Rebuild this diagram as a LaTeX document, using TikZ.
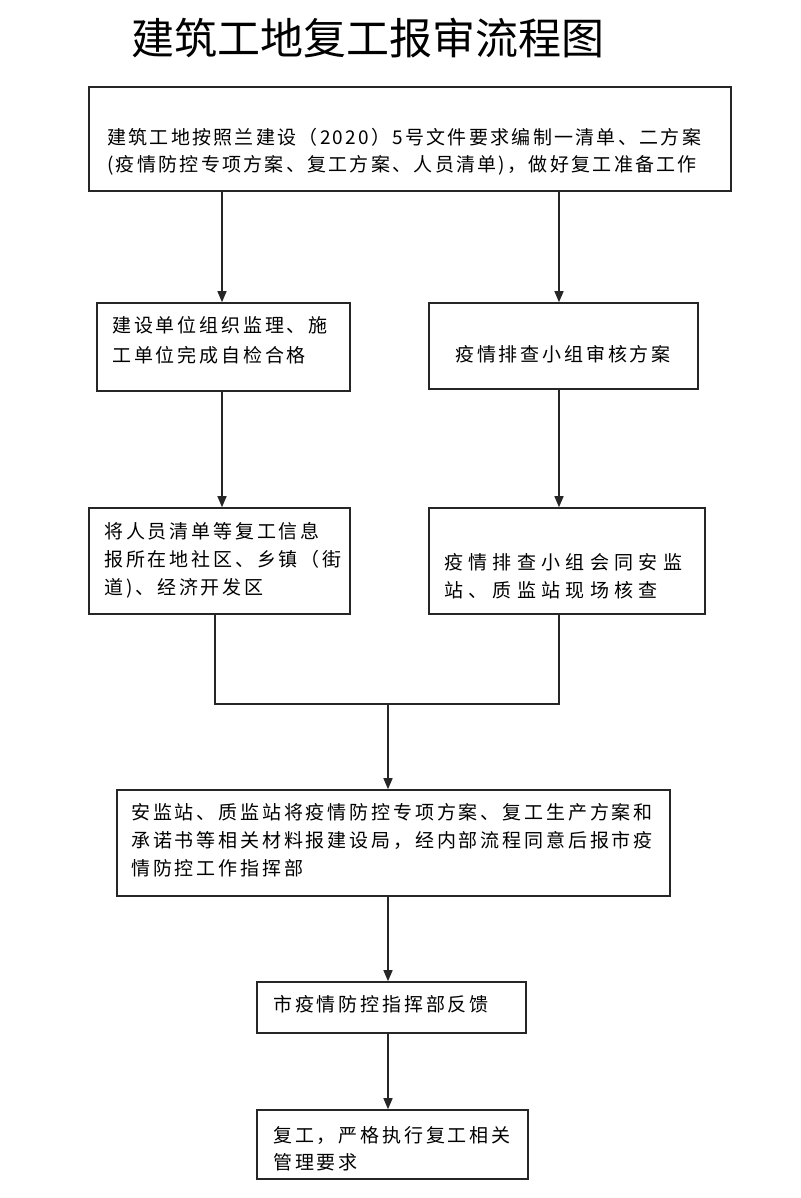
\documentclass[tikz,border=0pt]{standalone}
\usepackage{fontspec}
\setmainfont{Noto Sans CJK SC}
\newfontfamily\cjk[LetterSpace=15]{Noto Sans CJK SC}
\newfontfamily\cjkn[LetterSpace=12]{Noto Sans CJK SC}
\newfontfamily\cjkw[LetterSpace=28]{Noto Sans CJK SC}
\usetikzlibrary{arrows.meta}
\begin{document}
\begin{tikzpicture}[x=1pt,y=-1pt,
  box/.style={draw=black!85, line width=1.6pt, rectangle, inner sep=0pt},
  txt/.style={align=left, inner sep=0pt, anchor=west, font=\cjk\fontsize{19}{28}\selectfont},
  txtw/.style={align=left, inner sep=0pt, anchor=west, font=\cjkw\fontsize{19}{28}\selectfont},
  conn/.style={draw=black!85, line width=1.4pt},
  arr/.style={conn, -{Triangle[length=11pt,width=9pt]}}]
\fill[white] (0,0) rectangle (800,1198);
\useasboundingbox (0,0) rectangle (800,1198);

\node[font=\fontsize{43}{43}\selectfont, inner sep=0pt] (title) at (368,38) {建筑工地复工报审流程图};

% boxes
\node[box, minimum width=642pt, minimum height=104pt] (b1) at (410,139) {};
\node[box, minimum width=253pt, minimum height=88pt] (b2l) at (223.5,347) {};
\node[box, minimum width=269pt, minimum height=86pt] (b2r) at (563.5,346) {};
\node[box, minimum width=261pt, minimum height=106pt] (b3l) at (219.5,561) {};
\node[box, minimum width=276pt, minimum height=106pt] (b3r) at (567,561) {};
\node[box, minimum width=553pt, minimum height=106pt] (b4) at (393.5,843) {};
\node[box, minimum width=269pt, minimum height=51pt] (b5) at (391.5,1007.5) {};
\node[box, minimum width=271pt, minimum height=69pt] (b6) at (392.5,1144.5) {};

% texts
\node[txt, font=\cjkn\fontsize{19}{27}\selectfont] (t1) at (107,151.5) {建筑工地按照兰建设（2020）5号文件要求编制一清单、二方案\\(疫情防控专项方案、复工方案、人员清单)，做好复工准备工作};
\node[txt, font=\cjk\fontsize{19}{30}\selectfont] (t2l) at (112,340) {建设单位组织监理、施\\工单位完成自检合格};
\node[txt] (t2r) at (455,354) {疫情排查小组审核方案};
\node[txt] (t3l) at (104,560) {将人员清单等复工信息\\报所在地社区、乡镇（街\\道)、经济开发区};
\node[txtw] (t3r) at (444,576) {疫情排查小组会同安监\\站、质监站现场核查};
\node[txt] (t4) at (131,840) {安监站、质监站将疫情防控专项方案、复工生产方案和\\承诺书等相关材料报建设局，经内部流程同意后报市疫\\情防控工作指挥部};
\node[txt] (t5) at (273,1004) {市疫情防控指挥部反馈};
\node[txt, font=\cjk\fontsize{19}{27}\selectfont] (t6) at (273,1148.5) {复工，严格执行复工相关\\管理要求};

% connector coordinates
\coordinate (xl) at (222,0);
\coordinate (xr) at (559,0);
\coordinate (xm) at (215,0);
\coordinate (xc) at (388,0);
\coordinate (jl) at (215,704);
\coordinate (jr) at (559,704);
\coordinate (jc) at (388,704);

\draw[arr] (b1.south -| xl) -- (b2l.north -| xl);
\draw[arr] (b1.south -| xr) -- (b2r.north -| xr);
\draw[arr] (b2l.south -| xl) -- (b3l.north -| xl);
\draw[arr] (b2r.south -| xr) -- (b3r.north -| xr);
\draw[conn] (b3l.south -| xm) -- (jl) -- (jr) -- (b3r.south -| xr);
\draw[arr] (jc) -- (b4.north -| xc);
\draw[arr] (b4.south -| xc) -- (b5.north -| xc);
\draw[arr] (b5.south -| xc) -- (b6.north -| xc);
\end{tikzpicture}
\end{document}
